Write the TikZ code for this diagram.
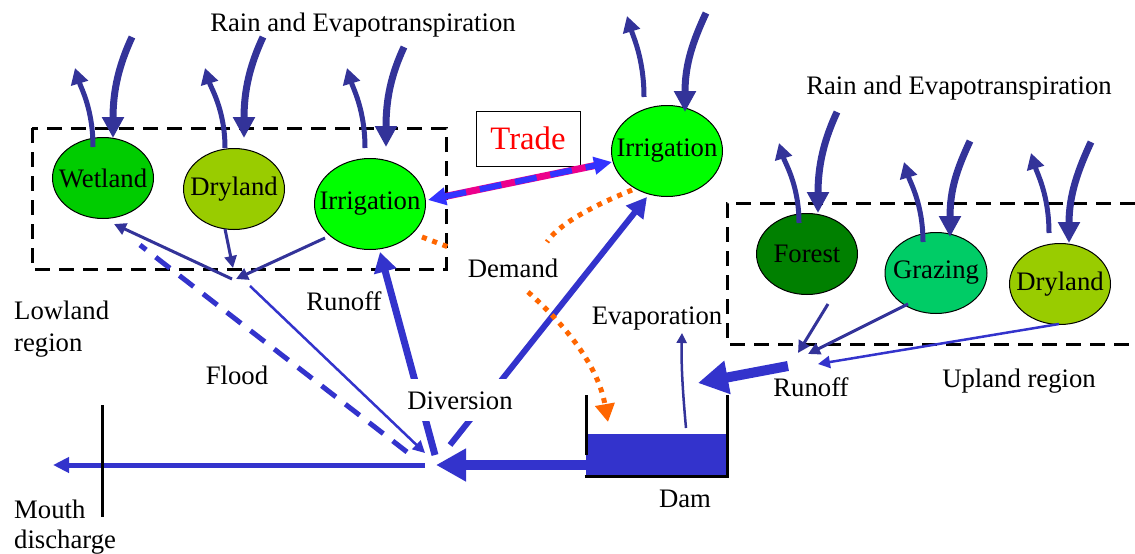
\documentclass[tikz,border=0pt]{standalone}
\usepackage{fontspec}
\setmainfont{Liberation Serif}
\usetikzlibrary{arrows.meta,shapes.geometric}
\definecolor{navy}{RGB}{51,51,153}
\definecolor{rblue}{RGB}{51,51,204}
\definecolor{tblue}{RGB}{51,51,255}
\definecolor{orng}{RGB}{255,102,0}
\definecolor{wetc}{RGB}{0,204,0}
\definecolor{dryc}{RGB}{153,204,0}
\definecolor{irrc}{RGB}{0,255,0}
\definecolor{forc}{RGB}{0,128,0}
\definecolor{grzc}{RGB}{0,204,102}
\newcommand{\ztext}[1]{\makebox[0pt]{#1}}
\begin{document}
\begin{tikzpicture}[x=1pt,y=-1pt,
  lbl/.style={font=\fontsize{26.7pt}{31pt}\selectfont, inner sep=0pt, anchor=base},
  ell/.style={ellipse, draw=black, line width=1pt, inner sep=0pt, font=\fontsize{26.7pt}{31pt}\selectfont},
  region/.style={draw=black, line width=3pt, dash pattern=on 15pt off 9pt},
  rain/.style={draw=navy, line width=7pt, -{Triangle[length=21pt,width=21pt]}},
  evap/.style={draw=navy, line width=5pt, -{Triangle[length=16pt,width=17pt]}},
  thinflow/.style={draw=navy, line width=3pt, -{Triangle[length=12pt,width=12pt]}},
  dotline/.style={draw=orng, line width=5pt, dash pattern=on 5pt off 6pt},
  wall/.style={draw=black, line width=3pt}]
\useasboundingbox (0,0) rectangle (1135,554);

% regions
\draw[region] (32,128) rectangle (446,269);
\draw[region] (1135,203) -- (727,203) -- (727,344) -- (1135,344);

% land-use nodes
\node[ell, fill=wetc, minimum width=101pt, minimum height=81pt] (wet) at (103,178) {\ztext{Wetland}};
\node[ell, fill=dryc, minimum width=101pt, minimum height=81pt] (dryL) at (234,189) {\ztext{Dryland}};
\node[ell, fill=irrc, minimum width=111pt, minimum height=91pt] (irrL) at (370,204) {\ztext{Irrigation}};
\node[ell, fill=irrc, minimum width=111pt, minimum height=91pt] (irrR) at (667,151) {\ztext{Irrigation}};
\node[ell, fill=forc, minimum width=101pt, minimum height=81pt] (forest) at (807,254) {\ztext{Forest}};
\node[ell, fill=grzc, minimum width=102pt, minimum height=81pt] (graz) at (936,273) {\ztext{Grazing}};
\node[ell, fill=dryc, minimum width=101pt, minimum height=81pt] (dryR) at (1060,284) {\ztext{Dryland}};

% labels
\node[lbl] (rain1) at (363,31) {Rain and Evapotranspiration};
\node[lbl] (rain2) at (959,94) {Rain and Evapotranspiration};
\node[draw=black, line width=1pt, minimum width=104pt, minimum height=55pt, inner sep=0pt,
      text=red, font=\fontsize{32.7pt}{36pt}\selectfont] (trade) at (528,138.5) {Trade};
\node[lbl, anchor=base west] (low1) at (14,319) {Lowland};
\node[lbl, anchor=base west] (low2) at (14,351) {region};
\node[lbl] (flood) at (237,384) {Flood};
\node[lbl] (runL) at (344,310) {Runoff};
\node[lbl] (demand) at (513,277) {Demand};
\node[lbl] (evaplbl) at (657,324) {Evaporation};
\node[lbl] (runR) at (811,396) {Runoff};
\node[lbl] (upland) at (1019,387) {Upland region};
\node[lbl] (damlbl) at (685,507) {Dam};
\node[lbl, anchor=base west] (mouth1) at (14,518) {Mouth};
\node[lbl, anchor=base west] (mouth2) at (14,548) {discharge};

% rain and evapotranspiration arrows
\foreach \n/\ex/\ey/\tx/\ty/\sx/\sy/\rx/\ry in {
  w/93/147/75/68/132/37/113/138,
  d/225/148/205/68/263/37/244/138,
  il/365/148/347/68/404/47/386/147,
  ir/644/97/627/16/706/13/685/112,
  f/799/223/779/143/837/112/818/213,
  g/923/242/904/162/970/141/950/237,
  dr/1049/233/1031/153/1091/142/1069/243}{
  \coordinate (e\n a) at (\ex,\ey);
  \coordinate (e\n b) at (\tx,\ty);
  \coordinate (r\n a) at (\sx,\sy);
  \coordinate (r\n b) at (\rx,\ry);
  \draw[evap] (e\n a) .. controls +(0,-38) and +(6,20) .. (e\n b);
  \draw[rain] (r\n a) .. controls +(-13,28) and +(0,-48) .. (r\n b);
}

% dam
\fill[rblue] (586,434) rectangle (727,475);
\node[inner sep=0pt, minimum width=141pt, minimum height=41pt] (dam) at (656.5,454.5) {};
\draw[wall] (586,395) -- (586,455);
\draw[wall] (584.5,476) -- (727,476) -- (727,395);

% junction and river
\coordinate (jw) at (425,465);
\coordinate (jdam) at (436,465);
\coordinate (mouthtip) at (53,465);
\draw[draw=rblue, line width=5pt, -{Triangle[length=16pt,width=15pt]}] (jw) -- (mouthtip);
\draw[black, line width=3pt] (102,405) -- (102,517);
\draw[draw=rblue, line width=10pt, -{Triangle[length=30pt,width=31pt]}] (dam.west |- jdam) -- (jdam);

% evaporation from dam
\coordinate (evs) at (686,428);
\coordinate (evt) at (682,333);
\draw[draw=navy, line width=2.5pt, -{Triangle[length=10pt,width=10pt]}] (evs) .. controls (683,395) and (681,365) .. (evt);

% upland runoff
\coordinate (rc1) at (798,353);
\coordinate (rc2) at (808,354);
\coordinate (rc3) at (818,364);
\coordinate (forOut) at (828,304);
\coordinate (grzOut) at (908,304);
\coordinate (dryROut) at (1059,324);
\draw[thinflow] (forOut) -- (rc1);
\draw[thinflow] (grzOut) -- (rc2);
\draw[thinflow, draw=rblue, line width=2.5pt] (dryROut) -- (rc3);
\coordinate (runS) at (788,366);
\coordinate (runT) at (698,383);
\draw[draw=rblue, line width=10pt, -{Triangle[length=30pt,width=32pt]}] (runS) -- (runT);

% lowland collection
\coordinate (lc1) at (233,268);
\coordinate (lc2) at (236,279);
\coordinate (lcw) at (232,279);
\coordinate (dryLOut) at (225,229);
\coordinate (irrLOut) at (325,238);
\coordinate (wetIn) at (114,224);
\draw[thinflow] (dryLOut) -- (lc1);
\draw[thinflow] (irrLOut) -- (lc2);
\draw[thinflow] (lcw) -- (wetIn);
\coordinate (lcOut) at (250,286);
\coordinate (jthin) at (425,453);
\draw[thinflow, draw=rblue, line width=2.5pt] (lcOut) -- (jthin);
\coordinate (jflood) at (407,452);
\coordinate (floodEnd) at (140,245);
\draw[draw=rblue, line width=5pt, dash pattern=on 18pt off 12pt] (jflood) -- (floodEnd);

% diversions
\coordinate (dvL) at (435,455);
\coordinate (dvLt) at (380,252);
\coordinate (dvR) at (450,445);
\coordinate (dvRt) at (647,197);
\draw[draw=rblue, line width=7pt, -{Triangle[length=20pt,width=22pt]}] (dvL) -- (dvLt);
\draw[draw=rblue, line width=6pt, -{Triangle[length=20pt,width=21pt]}] (dvR) -- (dvRt);
\node[lbl, fill=white, inner xsep=3pt, inner ysep=12pt] (div) at (460,409) {Diversion};

% trade
\coordinate (trL) at (428,200);
\coordinate (trR) at (612,162);
\draw[magenta, line width=7pt, shorten <=14pt, shorten >=14pt] (trL) -- (trR);
\draw[draw=tblue, line width=6pt, dash pattern=on 22pt off 14pt,
      {Triangle[length=18pt,width=17pt]}-{Triangle[length=18pt,width=17pt]}] (trL) -- (trR);

% demand (orange dotted)
\coordinate (dmL1) at (422,237);
\coordinate (dmL2) at (451,248);
\draw[dotline] (dmL1) -- (dmL2);
\coordinate (dmR1) at (632,190);
\coordinate (dmR2) at (547,242);
\draw[dotline] (dmR1) .. controls (600,203) and (560,222) .. (dmR2);
\coordinate (dmS) at (528,292);
\coordinate (dmT) at (608,422);
\draw[dotline, -{Triangle[length=18pt,width=19pt]}] (dmS) .. controls (565,325) and (598,365) .. (dmT);
\end{tikzpicture}
\end{document}
